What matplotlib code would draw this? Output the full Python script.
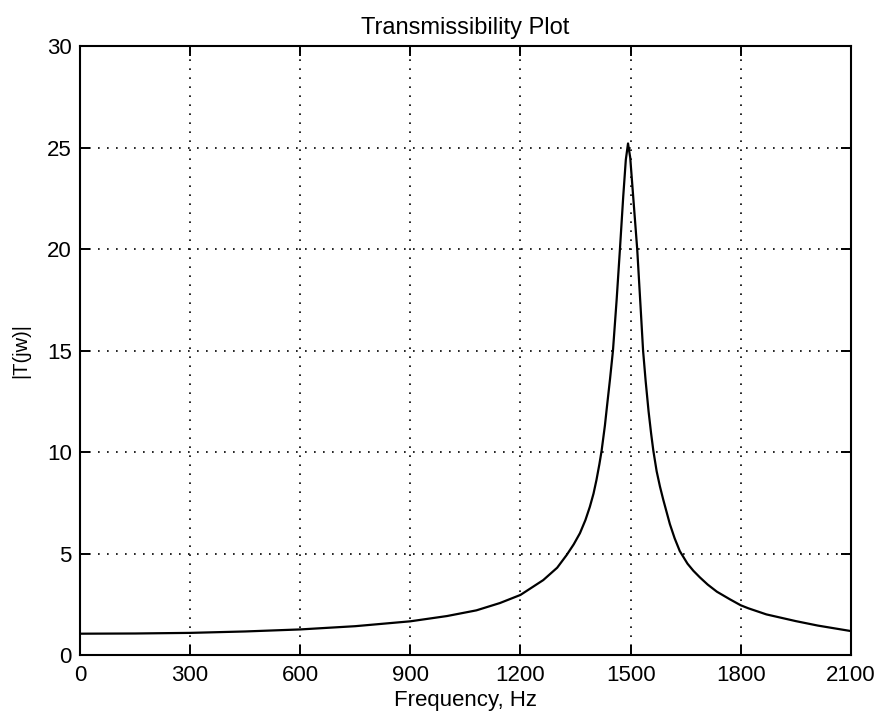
import matplotlib
matplotlib.use('Agg')
from matplotlib import pyplot as plt

plt.rcParams['font.family'] = ['Liberation Sans', 'DejaVu Sans']

# values
freq = [0, 150, 300, 450, 600, 750, 900, 1000, 1080, 1144, 1200, 1262, 1300,
        1326, 1345, 1362, 1377, 1389, 1399, 1407, 1415, 1421, 1430, 1436, 1444,
        1452, 1462, 1471, 1480, 1487, 1493, 1499, 1507, 1518, 1528, 1534, 1541,
        1549, 1556, 1562, 1571, 1580, 1589, 1607, 1620, 1634, 1655, 1671, 1689,
        1710, 1735, 1770, 1800, 1821, 1870, 1950, 2010, 2060, 2100]
mag = [1.05, 1.06, 1.09, 1.16, 1.26, 1.42, 1.66, 1.92, 2.20, 2.56, 2.96, 3.69, 4.30,
       4.93, 5.45, 6.0, 6.65, 7.3, 7.95, 8.62, 9.4, 10.06, 11.3, 12.3, 13.6,
       15.0, 17.5, 20.0, 22.6, 24.4, 25.2, 24.5, 22.6, 20.0, 16.9, 15.0, 13.5,
       12.0, 10.9, 10.06, 9.05, 8.3, 7.65, 6.45, 5.75, 5.12, 4.5, 4.15, 3.82,
       3.47, 3.12, 2.75, 2.45, 2.30, 2.0, 1.67, 1.45, 1.3, 1.18]

xticks = [0, 300, 600, 900, 1200, 1500, 1800, 2100]
yticks = [0, 5, 10, 15, 20, 25, 30]

fig = plt.figure(figsize=(8.74, 7.19), dpi=100)
ax = fig.add_axes([0.0915, 0.089, 0.882, 0.847])
ax.plot(freq, mag, color='black', lw=1.6)
ax.set_xlim(0, 2100)
ax.set_ylim(0, 30)
ax.set_xticks(xticks)
ax.set_yticks(yticks)
ax.grid(True, color='black', linestyle=(0, (1, 4.4)), lw=1.2)
ax.tick_params(direction='in', top=True, right=True, length=7.5, width=1.4,
               labelsize=16)
ax.tick_params(axis='x', pad=7)
ax.tick_params(axis='y', pad=6)
for s in ax.spines.values():
    s.set_linewidth(1.5)
ax.set_title('Transmissibility Plot', fontsize=17, pad=9)
ax.set_xlabel('Frequency, Hz', fontsize=16, labelpad=3)
ax.set_ylabel('|T(jw)|', fontsize=14.5, labelpad=12)

fig.savefig('out.png', dpi=100)
